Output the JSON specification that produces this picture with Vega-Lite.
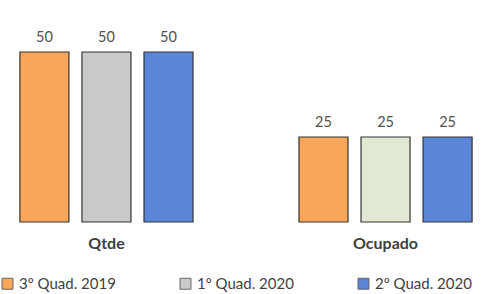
{
  "$schema": "https://vega.github.io/schema/vega-lite/v6.json",
  "width": 492,
  "height": 204,
  "padding": {"left": 0, "top": 18, "right": 3, "bottom": 0},
  "background": "white",
  "config": {"view": {"stroke": null}, "font": "Lato"},
  "data": {
    "values": [
      {"grupo": "Qtde", "serie": "3º Quad. 2019", "valor": 50},
      {"grupo": "Qtde", "serie": "1º Quad. 2020", "valor": 50},
      {"grupo": "Qtde", "serie": "2º Quad. 2020", "valor": 50},
      {"grupo": "Ocupado", "serie": "3º Quad. 2019", "valor": 25},
      {"grupo": "Ocupado", "serie": "1º Quad. 2020", "valor": 25},
      {"grupo": "Ocupado", "serie": "2º Quad. 2020", "valor": 25}
    ]
  },
  "encoding": {
    "x": {
      "field": "grupo", "type": "nominal", "sort": ["Qtde", "Ocupado"],
      "scale": {"paddingInner": 0.333, "paddingOuter": 0.048},
      "axis": {"title": null, "domain": false, "ticks": false, "labelAngle": 0, "labelPadding": 13, "labelFontSize": 16, "labelFontWeight": "bold", "labelColor": "#3f3f3f"}
    },
    "xOffset": {
      "field": "serie", "type": "nominal", "sort": ["3º Quad. 2019", "1º Quad. 2020", "2º Quad. 2020"],
      "scale": {"paddingInner": 0.21, "paddingOuter": 0.105}
    },
    "y": {
      "field": "valor", "type": "quantitative",
      "scale": {"domain": [0, 60]},
      "axis": null
    }
  },
  "layer": [
    {
      "mark": {"type": "bar", "stroke": "#333333", "strokeWidth": 1.2},
      "encoding": {
        "color": {
          "condition": {"test": "datum.grupo === 'Ocupado' && datum.serie === '1º Quad. 2020'", "value": "#e2e9d3"},
          "field": "serie", "type": "nominal",
          "sort": ["3º Quad. 2019", "1º Quad. 2020", "2º Quad. 2020"],
          "scale": {"range": ["#f8a657", "#c9c9c9", "#5a86d8"]},
          "legend": {
            "title": null, "orient": "bottom", "direction": "horizontal", "columns": 3,
            "symbolType": "square", "symbolSize": 120, "symbolStrokeColor": "#666666", "symbolStrokeWidth": 1,
            "labelFontSize": 15, "labelColor": "#3f3f3f", "columnPadding": 62, "offset": 25, "padding": 0
          }
        }
      }
    },
    {
      "mark": {"type": "text", "baseline": "bottom", "dy": -7, "fontSize": 14.5, "color": "#505050"},
      "encoding": {"text": {"field": "valor", "type": "quantitative"}}
    }
  ]
}
